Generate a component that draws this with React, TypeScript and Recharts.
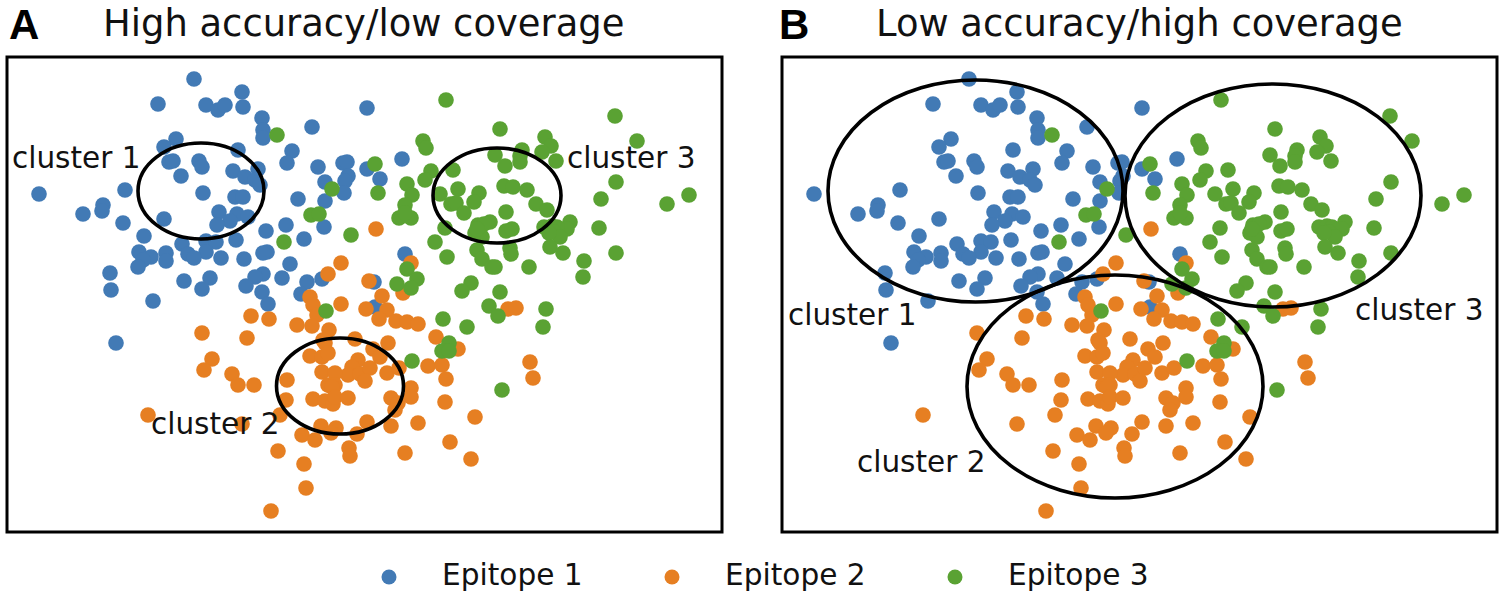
import React from "react";
import { ScatterChart, Scatter, XAxis, YAxis, ReferenceDot, ReferenceArea } from "recharts";

type P = [number, number];

const epitope1Points: P[] = [
  [194,79],[242,92],[158,104],[206,105],[218,110],[225,105],[243,107],[262,118],[263,130],[263,138],[312,127],[367,108],
  [176,139],[164,147],[238,150],[169,162],[173,161],[199,161],[202,167],[181,176],[233,171],[245,177],[258,169],[255,180],[260,185],
  [292,151],[287,163],[318,167],[343,163],[347,162],[367,169],[348,176],[345,181],[325,182],[344,193],[203,193],[235,197],[243,197],
  [325,201],[298,199],[39,194],[125,190],[103,205],[102,211],[83,214],[123,223],[164,219],[219,212],[237,214],[248,217],[230,221],
  [217,225],[144,236],[266,231],[286,225],[324,227],[304,239],[236,240],[182,244],[206,241],[216,242],[206,252],[188,254],[194,258],
  [221,258],[244,259],[139,252],[151,257],[143,260],[138,267],[166,253],[166,261],[267,252],[263,253],[290,264],[110,273],[111,290],
  [153,301],[184,281],[210,278],[202,289],[263,274],[255,277],[246,286],[282,278],[307,282],[322,279],[262,292],[268,304],[301,294],
  [402,159],[380,179],[405,254],[374,282],[375,307],[116,343],
];

const epitope2Points: P[] = [
  [341,263],[328,274],[411,263],[369,281],[382,296],[403,293],[310,297],[313,305],[317,315],[341,304],[366,309],[387,310],[379,319],
  [396,321],[407,322],[418,324],[251,316],[269,319],[297,325],[312,326],[329,330],[202,333],[247,338],[436,337],[388,343],[355,339],
  [323,340],[373,349],[458,349],[325,343],[310,356],[322,357],[328,353],[380,357],[212,359],[204,370],[232,374],[238,385],[254,385],
  [358,360],[352,367],[348,375],[360,374],[370,368],[322,372],[335,373],[365,381],[387,373],[399,368],[428,366],[442,365],[446,379],
  [287,380],[328,385],[335,385],[332,387],[286,400],[313,399],[325,401],[333,404],[335,397],[348,398],[391,398],[398,403],[411,388],[411,397],
  [395,410],[445,402],[530,362],[533,378],[475,417],[280,415],[148,415],[242,424],[321,426],[336,428],[331,433],[367,422],[391,426],
  [418,423],[302,435],[315,440],[357,434],[278,451],[349,448],[350,456],[405,453],[450,442],[471,459],[304,464],[306,488],[271,511],
  [508,309],[516,308],[376,229],
];

const epitope3Points: P[] = [
  [277,135],[332,189],[311,215],[319,214],[284,242],[351,235],[326,311],[446,100],[615,116],[500,129],[545,137],[551,146],
  [542,152],[637,141],[522,150],[520,156],[520,162],[495,155],[505,166],[556,161],[423,141],[426,148],[375,164],[431,171],[425,180],[453,170],
  [407,184],[412,195],[405,205],[378,193],[616,182],[504,186],[513,187],[527,190],[440,194],[458,189],[479,193],[474,202],[451,204],
  [456,203],[464,213],[601,199],[536,204],[547,210],[506,212],[667,204],[689,195],[399,218],[411,218],[405,213],[445,228],[490,222],[478,225],
  [484,224],[475,233],[482,237],[477,229],[506,231],[512,229],[570,222],[567,229],[544,227],[552,226],[557,227],[554,232],[560,237],[549,233],[599,228],[435,242],
  [477,250],[482,259],[492,267],[495,267],[510,248],[511,254],[550,247],[563,253],[616,253],[447,257],[529,267],[584,261],[583,277],
  [407,269],[417,279],[397,284],[411,288],[471,283],[462,291],[500,292],[489,306],[498,316],[546,309],[412,361],[443,319],[467,327],
  [543,327],[449,343],[442,351],[449,351],[502,390],
];

const plotXDomain: P = [7, 722];
const plotYDomain: P = [57, 532];

const ellipsesA = [
  { name: "cluster 1", cx: 201, cy: 191, rx: 63, ry: 48 },
  { name: "cluster 3", cx: 497, cy: 195.5, rx: 64, ry: 47.5 },
  { name: "cluster 2", cx: 340, cy: 386, rx: 63.5, ry: 48 },
];
const ellipsesB = [
  { name: "cluster 1", cx: 200.5, cy: 191, rx: 147.5, ry: 111 },
  { name: "cluster 3", cx: 498, cy: 195.5, rx: 148, ry: 111.5 },
  { name: "cluster 2", cx: 340, cy: 386.5, rx: 148, ry: 111.5 },
];
const labelsA = [
  { text: "cluster 1", x: 12, y: 168 },
  { text: "cluster 3", x: 567, y: 168 },
  { text: "cluster 2", x: 151, y: 434 },
];
const labelsB = [
  { text: "cluster 1", x: 13, y: 325 },
  { text: "cluster 3", x: 580, y: 320 },
  { text: "cluster 2", x: 82, y: 472 },
];

const BLUE = "#427ab5";
const ORANGE = "#e67f22";
const GREEN = "#5aa233";
const FONT = "'DejaVu Sans', sans-serif";

const legendItems = [
  { name: "Epitope 1", color: BLUE, cx: 389, tx: 442 },
  { name: "Epitope 2", color: ORANGE, cx: 672, tx: 725 },
  { name: "Epitope 3", color: GREEN, cx: 955, tx: 1008 },
];

const toRows = (pts: P[]) => pts.map(([x, y]) => ({ x, y }));
const dot = (fill: string) => (p: any) => <circle cx={p.cx} cy={p.cy} r={7.8} fill={fill} />;

function Panel({ left, width, ellipses, labels }: { left: number; width: number; ellipses: typeof ellipsesA; labels: typeof labelsA }) {
  return (
    <div style={{ position: "absolute", left, top: 0 }}>
      <ScatterChart
        width={width}
        height={594}
        margin={{ left: 7, top: 57, right: width - 722, bottom: 62 }}
      >
        <XAxis type="number" dataKey="x" domain={plotXDomain} hide allowDataOverflow />
        <YAxis type="number" dataKey="y" domain={plotYDomain} hide reversed allowDataOverflow />
        <Scatter name="Epitope 1" data={toRows(epitope1Points)} fill={BLUE} shape={dot(BLUE)} isAnimationActive={false} />
        <Scatter name="Epitope 2" data={toRows(epitope2Points)} fill={ORANGE} shape={dot(ORANGE)} isAnimationActive={false} />
        <Scatter name="Epitope 3" data={toRows(epitope3Points)} fill={GREEN} shape={dot(GREEN)} isAnimationActive={false} />
        {ellipses.map((e) => (
          <ReferenceDot
            key={e.name}
            x={e.cx}
            y={e.cy}
            ifOverflow="visible"
            shape={(p: any) => (
              <ellipse cx={p.cx} cy={p.cy} rx={e.rx} ry={e.ry} fill="none" stroke="#000" strokeWidth={3.6} />
            )}
          />
        ))}
        {labels.map((l) => (
          <ReferenceDot
            key={l.text}
            x={l.x}
            y={l.y}
            ifOverflow="visible"
            shape={(p: any) => (
              <text x={p.cx} y={p.cy} fontFamily={FONT} fontSize={29.5} fill="#111">
                {l.text}
              </text>
            )}
          />
        ))}
        <ReferenceArea
          x1={plotXDomain[0]}
          x2={plotXDomain[1]}
          y1={plotYDomain[0]}
          y2={plotYDomain[1]}
          fill="none"
          stroke="#000"
          strokeWidth={3}
          ifOverflow="visible"
        />
      </ScatterChart>
    </div>
  );
}

export default function App() {
  return (
    <div style={{ position: "absolute", left: 0, top: 0, width: 1507, height: 594, background: "#fff", overflow: "hidden" }}>
      <Panel left={0} width={760} ellipses={ellipsesA} labels={labelsA} />
      <Panel left={775} width={732} ellipses={ellipsesB} labels={labelsB} />
      <svg width={1507} height={594} style={{ position: "absolute", left: 0, top: 0, pointerEvents: "none" }}>
        <text x={9} y={39} fontFamily="'Liberation Sans', Arial, sans-serif" fontWeight={700} fontSize={42} fill="#000">A</text>
        <text x={779} y={39} fontFamily="'Liberation Sans', Arial, sans-serif" fontWeight={700} fontSize={42} fill="#000">B</text>
        <text x={103} y={36} fontFamily={FONT} fontSize={36.9} fill="#111">High accuracy/low coverage</text>
        <text x={876} y={36} fontFamily={FONT} fontSize={36.9} fill="#111">Low accuracy/high coverage</text>
        {legendItems.map((it) => (
          <g key={it.name}>
            <circle cx={it.cx} cy={577} r={7.5} fill={it.color} />
            <text x={it.tx} y={585} fontFamily={FONT} fontSize={29.6} fill="#111">{it.name}</text>
          </g>
        ))}
      </svg>
    </div>
  );
}
